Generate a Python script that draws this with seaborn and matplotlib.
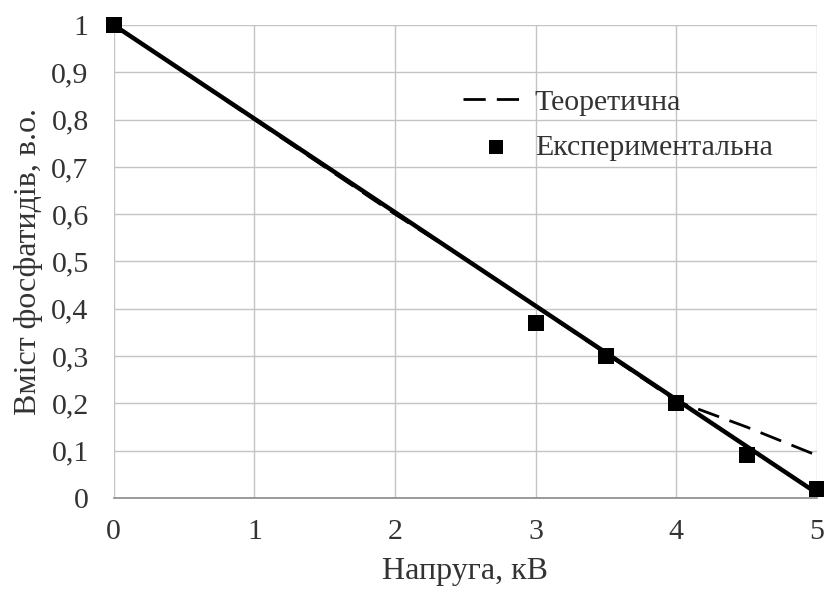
import matplotlib
matplotlib.use("Agg")
import matplotlib.pyplot as plt
import seaborn as sns
import pandas as pd

# Theoretical curve
theory_x = [0, 0.5, 1, 1.5, 2, 2.5, 3, 3.5, 4, 4.5, 5]
theory_y = [1.0, 0.9, 0.8, 0.7, 0.6, 0.505, 0.405, 0.305, 0.205, 0.15, 0.09]

# Experimental measurements
exp_x = [0, 3, 3.5, 4, 4.5, 5]
exp_y = [1.0, 0.37, 0.30, 0.20, 0.09, 0.02]

# Linear trend through the experimental data
trend_x = [0, 5]
trend_y = [1.0, 0.01]

x_ticks = [0, 1, 2, 3, 4, 5]
y_ticks = [0, 0.1, 0.2, 0.3, 0.4, 0.5, 0.6, 0.7, 0.8, 0.9, 1.0]
y_tick_labels = ["0", "0,1", "0,2", "0,3", "0,4", "0,5", "0,6", "0,7", "0,8", "0,9", "1"]

sns.set_theme(style="white")
plt.rcParams["font.family"] = ["Liberation Serif", "DejaVu Serif"]

fig = plt.figure(figsize=(8.24, 5.90), dpi=100)
ax = fig.add_axes([0.138, 0.156, 0.8535, 0.8016])

theory = pd.DataFrame({"x": theory_x, "y": theory_y})
exp = pd.DataFrame({"x": exp_x, "y": exp_y})
trend = pd.DataFrame({"x": trend_x, "y": trend_y})

sns.lineplot(data=theory, x="x", y="y", ax=ax, color="black", lw=2.0,
             label="Теоретична", zorder=3)
ax.lines[-1].set_dashes([8, 4])
sns.lineplot(data=trend, x="x", y="y", ax=ax, color="black", lw=3.2,
             zorder=4, legend=False)
sns.scatterplot(data=exp, x="x", y="y", ax=ax, color="black", marker="s",
                s=140, edgecolor="black", linewidth=0, zorder=5,
                label="Експериментальна", clip_on=False)

ax.set_xlim(0, 5)
ax.set_ylim(0, 1)
ax.set_xticks(x_ticks)
ax.set_yticks(y_ticks)
ax.set_yticklabels(y_tick_labels)
ax.grid(True, color="#c4c4c4", lw=1.0)
for side in ["top", "right", "left"]:
    ax.spines[side].set_visible(False)
ax.spines["bottom"].set_color("#8a8a8a")
ax.spines["bottom"].set_linewidth(1.2)
ax.tick_params(axis="both", labelsize=21.5, colors="#333333", length=5,
               color="#9a9a9a")
ax.tick_params(axis="y", pad=13)
ax.tick_params(axis="x", pad=10)

ax.set_xlabel("Напруга, кВ", fontsize=23, color="#333333", labelpad=9)
ax.set_ylabel("Вміст фосфатидів, в.о.", fontsize=23, color="#333333", labelpad=6)

leg = ax.legend(loc="upper left", bbox_to_anchor=(0.48, 0.89), frameon=False,
                fontsize=21.5, handlelength=2.2, handletextpad=0.2,
                labelspacing=0.62, markerscale=0.85, borderaxespad=0)
for t in leg.get_texts():
    t.set_color("#333333")

fig.savefig("out.png", dpi=100)
